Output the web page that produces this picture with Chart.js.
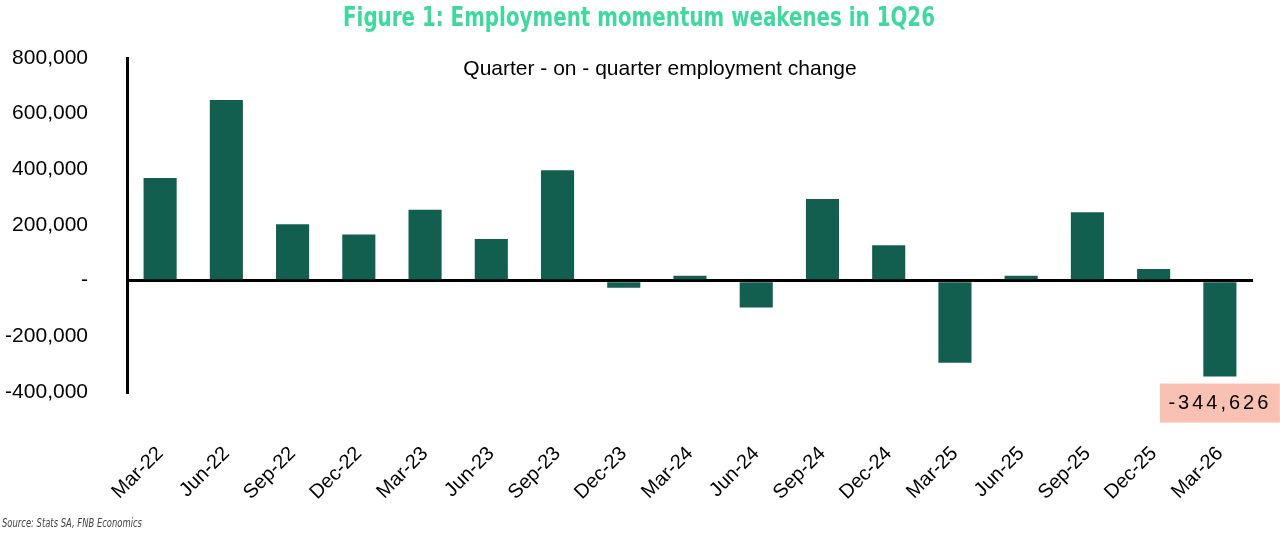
<!DOCTYPE html>
<html>
<head>
<meta charset="utf-8">
<script src="https://cdn.jsdelivr.net/npm/chart.js@4.4.1/dist/chart.umd.min.js"></script>
<style>
  html, body { margin: 0; padding: 0; background: #fff; }
  #wrap { width: 1280px; height: 536px; position: relative; }
</style>
</head>
<body>
<div id="wrap"><canvas id="empChart" width="1280" height="536"></canvas></div>
<script>
// quarter labels and q-o-q employment change
const quarters = ['Mar-22', 'Jun-22', 'Sep-22', 'Dec-22', 'Mar-23', 'Jun-23', 'Sep-23', 'Dec-23',
  'Mar-24', 'Jun-24', 'Sep-24', 'Dec-24', 'Mar-25', 'Jun-25', 'Sep-25', 'Dec-25', 'Mar-26'];
const qoqChange = [369000, 649000, 203000, 166000, 255000, 150000, 397000, -25000,
  18000, -96000, 293000, 127000, -295000, 18000, 246000, 42000, -344626];
const yTicks = [-400000, -200000, 0, 200000, 400000, 600000, 800000];

const titleText = 'Figure 1: Employment momentum weakenes in 1Q26';
const subtitleText = 'Quarter - on - quarter employment change';
const sourceText = 'Source: Stats SA, FNB Economics';
const calloutText = '-344,626';

const fmt = v => v === 0 ? '-' : v.toLocaleString('en-US');

// draw text squeezed horizontally to a given width (condensed look)
function squeezedText(ctx, text, x, y, width, align) {
  const w = ctx.measureText(text).width;
  const k = Math.min(1, width / w);
  ctx.save();
  ctx.translate(x, y);
  ctx.scale(k, 1);
  ctx.textAlign = align;
  ctx.fillText(text, 0, 0);
  ctx.restore();
}

// title, subtitle, source note and the callout under the last bar
const extras = {
  id: 'extras',
  afterDraw(chart) {
    const ctx = chart.ctx;
    ctx.save();
    ctx.textBaseline = 'middle';
    ctx.fillStyle = '#3fd9a0';
    ctx.font = 'bold 26px "DejaVu Sans Condensed", "DejaVu Sans", sans-serif';
    squeezedText(ctx, titleText, 639, 19, 592, 'center');

    ctx.fillStyle = '#000';
    ctx.textAlign = 'center';
    ctx.font = '21px "Liberation Sans", Arial, sans-serif';
    ctx.fillText(subtitleText, 660, 69);

    ctx.fillStyle = '#444';
    ctx.font = 'italic 13px "DejaVu Sans Condensed", "DejaVu Sans", sans-serif';
    squeezedText(ctx, sourceText, 2, 524, 140, 'left');

    // callout box
    const meta = chart.getDatasetMeta(0);
    const bar = meta.data[meta.data.length - 1];
    const bx = bar.x - 60, by = bar.y + 7;
    ctx.fillStyle = '#f8c1b3';
    ctx.fillRect(bx, by, 120, 39);
    ctx.fillStyle = '#000';
    ctx.textAlign = 'center';
    ctx.font = '20px "Liberation Sans", Arial, sans-serif';
    ctx.letterSpacing = '3px';
    ctx.fillText(calloutText, bar.x, by + 20);
    ctx.restore();
  }
};

new Chart(document.getElementById('empChart').getContext('2d'), {
  type: 'bar',
  data: {
    labels: quarters,
    datasets: [{
      label: 'Quarter-on-quarter employment change',
      data: qoqChange,
      backgroundColor: '#135f4f',
      barPercentage: 0.5,
      categoryPercentage: 1.0
    }]
  },
  options: {
    responsive: false,
    animation: false,
    layout: { padding: { top: 58, right: 27, left: 0, bottom: 0 } },
    plugins: {
      legend: { display: false },
      tooltip: { enabled: false },
      title: { display: false }
    },
    scales: {
      x: {
        grid: { display: false },
        border: { display: false },
        ticks: {
          color: '#000',
          font: { family: '"Liberation Sans", Arial, sans-serif', size: 20 },
          minRotation: 45,
          maxRotation: 45,
          padding: 42,
          autoSkip: false
        },
        afterFit(scale) { scale.height = 144; }
      },
      y: {
        min: -400000,
        max: 800000,
        afterBuildTicks(scale) { scale.ticks = yTicks.map(v => ({ value: v })); },
        border: { display: true, color: '#000', width: 3 },
        grid: {
          drawTicks: false,
          lineWidth: 3,
          color: c => (c.tick && c.tick.value === 0) ? '#000' : 'rgba(0,0,0,0)'
        },
        ticks: {
          color: '#000',
          font: { family: '"Liberation Sans", Arial, sans-serif', size: 21 },
          padding: 39,
          callback: v => fmt(v)
        },
        afterFit(scale) { scale.width = 127; }
      }
    }
  },
  plugins: [extras]
});
</script>
</body>
</html>
